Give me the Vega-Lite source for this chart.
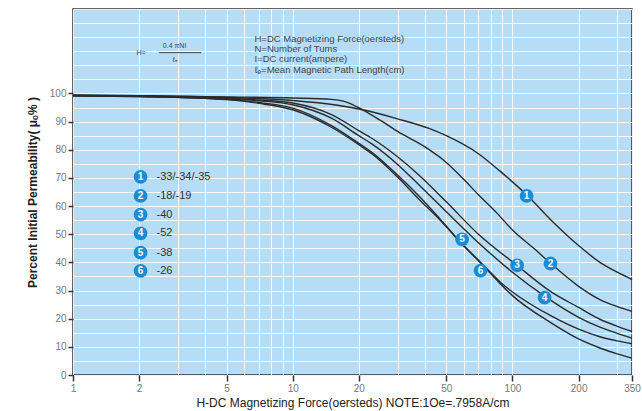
{
  "$schema": "https://vega.github.io/schema/vega-lite/v6.json",
  "width": 559,
  "height": 366,
  "autosize": {"type": "none"},
  "padding": {"left": 73, "top": 9, "right": 10, "bottom": 36},
  "background": "white",
  "config": {
    "view": {"stroke": "#333333", "strokeWidth": 1.5, "fill": "#b6dcf6"},
    "font": "Liberation Sans",
    "axis": {"labelOverlap": false}
  },
  "datasets": {
    "curves": [
      {"c": "1", "H": 1, "P": 99.4}, {"c": "1", "H": 2, "P": 99.2}, {"c": "1", "H": 5, "P": 98.6}, {"c": "1", "H": 7, "P": 98.2}, {"c": "1", "H": 10, "P": 97.5}, {"c": "1", "H": 16, "P": 95.8}, {"c": "1", "H": 20.8, "P": 94.2}, {"c": "1", "H": 30, "P": 91}, {"c": "1", "H": 42, "P": 87.5}, {"c": "1", "H": 50, "P": 85}, {"c": "1", "H": 70, "P": 78.6}, {"c": "1", "H": 87.5, "P": 72.5}, {"c": "1", "H": 116, "P": 64}, {"c": "1", "H": 150, "P": 55}, {"c": "1", "H": 200, "P": 46}, {"c": "1", "H": 250, "P": 40}, {"c": "1", "H": 300, "P": 36.5}, {"c": "1", "H": 350, "P": 33.9},
      {"c": "2", "H": 1, "P": 99.4}, {"c": "2", "H": 2, "P": 99.2}, {"c": "2", "H": 5, "P": 98.8}, {"c": "2", "H": 10, "P": 98.4}, {"c": "2", "H": 15, "P": 97.9}, {"c": "2", "H": 17, "P": 97.3}, {"c": "2", "H": 20.8, "P": 94.2}, {"c": "2", "H": 25, "P": 90.5}, {"c": "2", "H": 30, "P": 86.5}, {"c": "2", "H": 40, "P": 81}, {"c": "2", "H": 50, "P": 75.5}, {"c": "2", "H": 60, "P": 69.5}, {"c": "2", "H": 70, "P": 64}, {"c": "2", "H": 85, "P": 57.5}, {"c": "2", "H": 100, "P": 51.5}, {"c": "2", "H": 125, "P": 45}, {"c": "2", "H": 150, "P": 39.5}, {"c": "2", "H": 200, "P": 31.5}, {"c": "2", "H": 250, "P": 26.8}, {"c": "2", "H": 300, "P": 24.3}, {"c": "2", "H": 350, "P": 22.6},
      {"c": "3", "H": 1, "P": 99.3}, {"c": "3", "H": 2, "P": 99.1}, {"c": "3", "H": 5, "P": 98.3}, {"c": "3", "H": 7, "P": 97.7}, {"c": "3", "H": 10, "P": 96.6}, {"c": "3", "H": 15, "P": 92.5}, {"c": "3", "H": 20, "P": 86.8}, {"c": "3", "H": 23, "P": 84}, {"c": "3", "H": 30, "P": 77.5}, {"c": "3", "H": 37.8, "P": 70.8}, {"c": "3", "H": 50, "P": 61.5}, {"c": "3", "H": 70, "P": 50}, {"c": "3", "H": 105, "P": 38.9}, {"c": "3", "H": 150, "P": 29.5}, {"c": "3", "H": 200, "P": 24}, {"c": "3", "H": 250, "P": 19.8}, {"c": "3", "H": 300, "P": 17.3}, {"c": "3", "H": 350, "P": 15.5},
      {"c": "4", "H": 1, "P": 99.3}, {"c": "4", "H": 2, "P": 99}, {"c": "4", "H": 5, "P": 98.1}, {"c": "4", "H": 7, "P": 97.4}, {"c": "4", "H": 10, "P": 96}, {"c": "4", "H": 15, "P": 91.2}, {"c": "4", "H": 20, "P": 85}, {"c": "4", "H": 23, "P": 82}, {"c": "4", "H": 30, "P": 74.8}, {"c": "4", "H": 37.8, "P": 67.3}, {"c": "4", "H": 50, "P": 58}, {"c": "4", "H": 70, "P": 47}, {"c": "4", "H": 100, "P": 36.5}, {"c": "4", "H": 140, "P": 28}, {"c": "4", "H": 200, "P": 20.5}, {"c": "4", "H": 250, "P": 17}, {"c": "4", "H": 300, "P": 14.8}, {"c": "4", "H": 350, "P": 13.1},
      {"c": "5", "H": 1, "P": 99.2}, {"c": "5", "H": 2, "P": 98.9}, {"c": "5", "H": 5, "P": 97.9}, {"c": "5", "H": 7, "P": 96.8}, {"c": "5", "H": 10, "P": 94.8}, {"c": "5", "H": 15, "P": 88.6}, {"c": "5", "H": 20, "P": 82.3}, {"c": "5", "H": 23, "P": 79}, {"c": "5", "H": 30, "P": 71}, {"c": "5", "H": 37.8, "P": 63.3}, {"c": "5", "H": 46.6, "P": 55.6}, {"c": "5", "H": 59, "P": 46.6}, {"c": "5", "H": 72, "P": 39.8}, {"c": "5", "H": 81, "P": 35.8}, {"c": "5", "H": 90, "P": 32.3}, {"c": "5", "H": 100, "P": 29.5}, {"c": "5", "H": 150, "P": 21}, {"c": "5", "H": 200, "P": 16.3}, {"c": "5", "H": 250, "P": 13.6}, {"c": "5", "H": 300, "P": 12.1}, {"c": "5", "H": 350, "P": 11.1},
      {"c": "6", "H": 1, "P": 99.2}, {"c": "6", "H": 2, "P": 98.9}, {"c": "6", "H": 5, "P": 97.8}, {"c": "6", "H": 7, "P": 96.5}, {"c": "6", "H": 10, "P": 94.2}, {"c": "6", "H": 15, "P": 88}, {"c": "6", "H": 20, "P": 81.8}, {"c": "6", "H": 23, "P": 78.5}, {"c": "6", "H": 30, "P": 70.3}, {"c": "6", "H": 37.8, "P": 62.2}, {"c": "6", "H": 46.6, "P": 55.2}, {"c": "6", "H": 59, "P": 46.4}, {"c": "6", "H": 72, "P": 39.6}, {"c": "6", "H": 81, "P": 35.4}, {"c": "6", "H": 90, "P": 31.6}, {"c": "6", "H": 100, "P": 28.2}, {"c": "6", "H": 150, "P": 18.5}, {"c": "6", "H": 200, "P": 12.8}, {"c": "6", "H": 250, "P": 9.6}, {"c": "6", "H": 300, "P": 7.5}, {"c": "6", "H": 350, "P": 6}
    ],
    "markers": [
      {"n": "1", "H": 116, "P": 63.6},
      {"n": "2", "H": 149, "P": 39.6},
      {"n": "3", "H": 105, "P": 38.9},
      {"n": "4", "H": 140, "P": 27.5},
      {"n": "5", "H": 59, "P": 48.2},
      {"n": "6", "H": 71.6, "P": 37.1}
    ],
    "legend": [
      {"n": "1", "t": "-33/-34/-35", "H": 2.03, "P": 70.4},
      {"n": "2", "t": "-18/-19", "H": 2.03, "P": 63.6},
      {"n": "3", "t": "-40", "H": 2.03, "P": 57},
      {"n": "4", "t": "-52", "H": 2.03, "P": 50.3},
      {"n": "5", "t": "-38", "H": 2.03, "P": 43.5},
      {"n": "6", "t": "-26", "H": 2.03, "P": 37}
    ],
    "notes": [
      {"t": "H=DC Magnetizing Force(oersteds)", "H": 6.7, "P": 119.3},
      {"t": "N=Number of Tums", "H": 6.7, "P": 115.7},
      {"t": "I=DC current(ampere)", "H": 6.7, "P": 112.1},
      {"t": "ℓₑ=Mean Magnetic Path Length(cm)", "H": 6.7, "P": 108.4}
    ],
    "formula": [
      {"t": "H=", "H": 2.04, "P": 114.5},
      {"t": "0.4 πNI", "H": 2.9, "P": 117},
      {"t": "ℓₑ", "H": 2.92, "P": 112}
    ],
    "bar": [{"H": 2.47, "H2": 3.84, "P": 114.5}]
  },
  "encoding": {
    "x": {
      "field": "H", "type": "quantitative",
      "scale": {"type": "log", "domain": [1, 350], "nice": false},
      "axis": {
        "title": "H-DC Magnetizing Force(oersteds)  NOTE:1Oe=.7958A/cm",
        "titleFont": "Liberation Sans", "titleFontSize": 12, "titleFontWeight": "normal", "titleColor": "#222222", "titlePadding": 4,
        "values": [1, 2, 3, 4, 5, 6, 7, 8, 9, 10, 20, 30, 40, 50, 60, 70, 80, 90, 100, 200, 300, 350],
        "labelExpr": "indexof([1,2,5,10,20,50,100,200,350], datum.value) >= 0 ? '' + datum.value : ''",
        "labelOverlap": false,
        "tickOpacity": {"condition": {"test": "indexof([1,2,5,10,20,50,100,200,350], datum.value) >= 0", "value": 1}, "value": 0},
        "grid": true, "gridColor": "#ffffff", "gridWidth": 1, "gridOpacity": 0.9,
        "domain": false, "tickColor": "#333333", "tickSize": 6, "tickWidth": 1.5,
        "labelColor": "#777777", "labelFontSize": 10, "labelPadding": 2, "labelFlush": false
      }
    },
    "y": {
      "field": "P", "type": "quantitative",
      "scale": {"domain": [0, 130], "nice": false},
      "axis": {
        "title": "Percent Initial Permeability( μₒ%  )",
        "titleFont": "Liberation Sans", "titleFontSize": 12, "titleFontWeight": "bold", "titleColor": "#222222", "titlePadding": 10,
        "values": [0, 5, 10, 15, 20, 25, 30, 35, 40, 45, 50, 55, 60, 65, 70, 75, 80, 85, 90, 95, 100, 105, 110, 115, 120, 125, 130],
        "labelExpr": "indexof([0,10,20,30,40,50,60,70,80,90,100], datum.value) >= 0 ? '' + datum.value : ''",
        "labelOverlap": false,
        "tickOpacity": {"condition": {"test": "indexof([0,10,20,30,40,50,60,70,80,90,100], datum.value) >= 0", "value": 1}, "value": 0},
        "grid": true, "gridColor": "#ffffff", "gridWidth": 1, "gridOpacity": 0.9,
        "domain": false, "tickColor": "#333333", "tickSize": 5, "tickWidth": 1.5,
        "labelColor": "#777777", "labelFontSize": 10, "labelPadding": 2
      }
    }
  },
  "layer": [
    {
      "data": {"name": "curves"},
      "mark": {"type": "line", "color": "#2b2b2b", "strokeWidth": 1.4, "interpolate": "monotone"},
      "encoding": {"detail": {"field": "c"}}
    },
    {
      "data": {"name": "markers"},
      "mark": {"type": "circle", "color": "#1b8bd6", "opacity": 1, "size": 190},
      "encoding": {}
    },
    {
      "data": {"name": "markers"},
      "mark": {"type": "text", "color": "#ffffff", "fontSize": 10, "fontWeight": "bold", "align": "center", "baseline": "middle"},
      "encoding": {"text": {"field": "n"}}
    },
    {
      "data": {"name": "legend"},
      "mark": {"type": "circle", "color": "#1b8bd6", "opacity": 1, "size": 190},
      "encoding": {}
    },
    {
      "data": {"name": "legend"},
      "mark": {"type": "text", "color": "#ffffff", "fontSize": 10, "fontWeight": "bold", "align": "center", "baseline": "middle"},
      "encoding": {"text": {"field": "n"}}
    },
    {
      "data": {"name": "legend"},
      "mark": {"type": "text", "color": "#333333", "fontSize": 11, "align": "left", "baseline": "middle", "dx": 16},
      "encoding": {"text": {"field": "t"}}
    },
    {
      "data": {"name": "notes"},
      "mark": {"type": "text", "color": "#444444", "fontSize": 9.5, "align": "left", "baseline": "middle"},
      "encoding": {"text": {"field": "t"}}
    },
    {
      "data": {"name": "formula"},
      "mark": {"type": "text", "color": "#444444", "fontSize": 7, "align": "center", "baseline": "middle"},
      "encoding": {"text": {"field": "t"}}
    },
    {
      "data": {"name": "bar"},
      "mark": {"type": "rule", "color": "#444444", "strokeWidth": 1},
      "encoding": {"x2": {"field": "H2"}}
    }
  ]
}
